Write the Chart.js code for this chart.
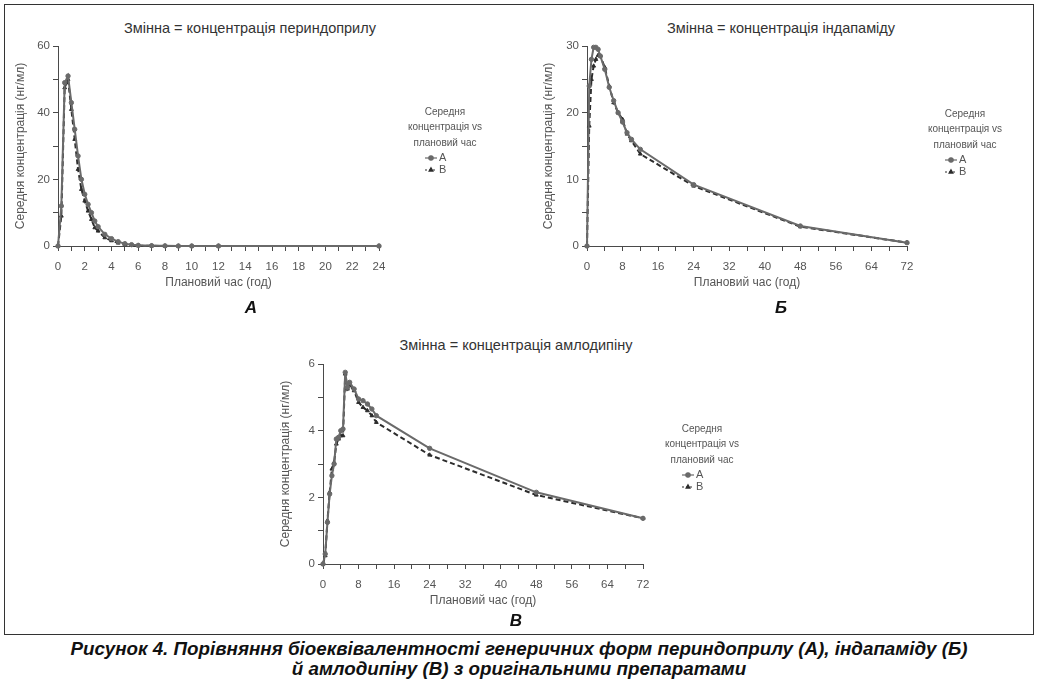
<!DOCTYPE html>
<html>
<head>
<meta charset="utf-8">
<script src="https://cdn.jsdelivr.net/npm/chart.js@4.4.1/dist/chart.umd.min.js"></script>
<style>
  body { margin: 0; background: #fff; width: 1038px; height: 684px; position: relative; overflow: hidden;
         font-family: "Liberation Sans", Arial, sans-serif; }
  .frame { position: absolute; left: 4px; top: 4px; width: 1028px; height: 629px; border: 1px solid #333; }
  canvas { position: absolute; }
  .ttl { position: absolute; width: 400px; text-align: center; font-size: 14.5px; color: #333; line-height: 16px; }
  .ltr { position: absolute; width: 60px; text-align: center; font-size: 17px; font-weight: bold;
         font-style: italic; color: #111; line-height: 20px; }
  .cap { position: absolute; left: 0; width: 1038px; top: 639px; text-align: center;
         font-family: "Liberation Sans", Arial, sans-serif; font-weight: bold;
         font-style: italic; font-size: 18.8px; line-height: 19.5px; color: #111; }
</style>
</head>
<body>
<div class="frame"></div>

<div class="ttl" style="left:50px; top:20px">Змінна = концентрація периндоприлу</div>
<div class="ttl" style="left:581px; top:20px">Змінна = концентрація індапаміду</div>
<div class="ttl" style="left:316px; top:337px">Змінна = концентрація амлодипіну</div>

<canvas id="chart-peri" width="500" height="300" style="left:0px; top:0px"></canvas>
<canvas id="chart-inda" width="500" height="300" style="left:530px; top:0px"></canvas>
<canvas id="chart-amlo" width="500" height="300" style="left:266px; top:318px"></canvas>

<div class="ltr" style="left:221px; top:298px">А</div>
<div class="ltr" style="left:751px; top:298px">Б</div>
<div class="ltr" style="left:486px; top:611px">В</div>

<div class="cap">Рисунок 4. Порівняння біоеквівалентності генеричних форм периндоприлу (А), індапаміду (Б)<br>й амлодипіну (В) з оригінальними препаратами</div>

<script>
// perindopril, 0-24 h
const periTime = [0, 0.25, 0.5, 0.75, 1, 1.25, 1.5, 1.75, 2, 2.25, 2.5, 2.75, 3, 3.5, 4, 4.5, 5, 5.5, 6, 7, 8, 9, 10, 12, 24]
const periA = [0, 12, 49, 51, 43, 35, 27, 20, 15.5, 12.5, 10, 7.5, 5.8, 3.5, 2.2, 1.3, 0.7, 0.4, 0.2, 0.1, 0.05, 0, 0, 0, 0]
const periB = [0, 9, 47.5, 50, 41, 32, 23, 17, 13.5, 10.5, 8, 5.5, 4.5, 2.5, 1.6, 0.9, 0.4, 0.2, 0.1, 0.05, 0, 0, 0, 0, 0]

// indapamide, 0-72 h
const indaTime = [0, 0.5, 1, 1.5, 2, 2.5, 3, 4, 5, 6, 7, 8, 9, 10, 12, 24, 48, 72]
const indaA = [0, 24, 28, 29.8, 29.8, 29.5, 28.5, 26.5, 23.8, 21.8, 20, 18.6, 17, 16, 14.5, 9.2, 3.0, 0.5]
const indaB = [0, 18, 25, 27, 28, 28.6, 28.5, 26.8, 24, 21.5, 20, 19, 16.8, 15.8, 13.8, 9, 2.9, 0.5]

// amlodipine, 0-72 h
const amloTime = [0, 0.5, 1, 1.5, 2, 2.5, 3, 3.5, 4, 4.5, 5, 5.5, 6, 7, 8, 9, 10, 11, 12, 24, 48, 72]
const amloA = [0, 0.3, 1.25, 2.1, 2.65, 3.0, 3.75, 3.8, 4.0, 4.05, 5.75, 5.3, 5.45, 5.25, 4.95, 4.9, 4.8, 4.65, 4.45, 3.47, 2.15, 1.37]
const amloB = [0, 0.25, 1.3, 2.15, 2.85, 3.05, 3.6, 3.75, 3.85, 3.85, 5.7, 5.25, 5.35, 5.2, 4.85, 4.7, 4.6, 4.45, 4.25, 3.27, 2.07, 1.37]

// tick labels
const periXLabels = [0, 2, 4, 6, 8, 10, 12, 14, 16, 18, 20, 22, 24]
const periYLabels = [0, 20, 40, 60]
const longXLabels = [0, 8, 16, 24, 32, 40, 48, 56, 64, 72]
const indaYLabels = [0, 10, 20, 30]
const amloYLabels = [0, 2, 4, 6]

const seriesNames = ['A', 'B']
const legendTitle = ['Середня', 'концентрація vs', 'плановий час']
const yTitle = 'Середня концентрація (нг/мл)'
const xTitle = 'Плановий час (год)'

const axisColor = '#4a4a4a'
const textColor = '#555'
const fontFamily = '"Liberation Sans", Arial, sans-serif'

const noteLegend = {
  id: 'noteLegend',
  afterDraw(chart, args, opts) {
    const ctx = chart.ctx
    ctx.save()
    ctx.font = '10px ' + fontFamily
    ctx.fillStyle = textColor
    ctx.textAlign = 'center'
    ctx.textBaseline = 'middle'
    legendTitle.forEach((line, i) => ctx.fillText(line, opts.x, opts.y + i * 15.5))
    chart.data.datasets.forEach((ds, i) => {
      const y = opts.y + 46 + i * 12
      const x0 = opts.x - 20
      ctx.strokeStyle = ds.borderColor
      ctx.fillStyle = ds.borderColor
      ctx.lineWidth = 1.2
      ctx.setLineDash(i === 1 ? [2, 2] : [])
      ctx.beginPath()
      ctx.moveTo(x0, y)
      ctx.lineTo(x0 + 12, y)
      ctx.stroke()
      ctx.setLineDash([])
      Chart.helpers.drawPoint(ctx, { pointStyle: ds.pointStyle, rotation: 0, radius: 2.2, borderWidth: 1 }, x0 + 6, y)
      ctx.fillStyle = textColor
      ctx.textAlign = 'left'
      ctx.font = '11px ' + fontFamily
      ctx.fillText(ds.label, x0 + 14, y)
    })
    ctx.restore()
  }
}

function series(times, values, idx) {
  return {
    label: seriesNames[idx],
    data: times.map((t, i) => ({ x: t, y: values[i] })),
    borderColor: idx === 0 ? '#6a6a6a' : '#2c2c2c',
    backgroundColor: idx === 0 ? '#6a6a6a' : '#2c2c2c',
    borderWidth: 2,
    borderDash: idx === 1 ? [5, 3] : [],
    pointStyle: idx === 0 ? 'circle' : 'triangle',
    pointRadius: 2.2,
    pointBorderWidth: 1,
    tension: 0,
    clip: false
  }
}

function panelConfig(p) {
  return {
    type: 'line',
    data: {
      datasets: [series(p.times, p.a, 0), series(p.times, p.b, 1)]
    },
    options: {
      responsive: false,
      animation: false,
      layout: {
        padding: { top: 46, right: p.right, bottom: 4, left: 0 }
      },
      scales: {
        x: {
          type: 'linear',
          min: 0,
          max: p.xMax,
          afterFit: (s) => { s.height = 50 },
          border: { display: true, color: axisColor, width: 1 },
          grid: { display: true, drawOnChartArea: false, drawTicks: true, tickLength: 5, color: axisColor },
          ticks: {
            stepSize: p.xStep,
            autoSkip: false,
            maxRotation: 0,
            padding: 9,
            color: textColor,
            font: { family: fontFamily, size: 11.5 },
            callback: (v) => p.xLabels.includes(v) ? String(v) : ''
          },
          title: {
            display: true,
            text: xTitle,
            color: textColor,
            font: { family: fontFamily, size: 12 },
            padding: { top: 0, bottom: 6 }
          }
        },
        y: {
          type: 'linear',
          min: 0,
          max: p.yMax,
          afterFit: (s) => { s.width = p.yWidth },
          border: { display: true, color: axisColor, width: 1 },
          grid: { display: true, drawOnChartArea: false, drawTicks: true, tickLength: 5, color: axisColor },
          ticks: {
            stepSize: p.yStep,
            autoSkip: false,
            padding: 3,
            color: textColor,
            font: { family: fontFamily, size: 11.5 },
            callback: (v) => p.yLabels.includes(v) ? String(v) : ''
          },
          title: {
            display: true,
            text: yTitle,
            color: textColor,
            font: { family: fontFamily, size: 12 },
            padding: { top: p.yTitlePad, bottom: 0 }
          }
        }
      },
      plugins: {
        legend: { display: false },
        tooltip: { enabled: false },
        noteLegend: p.legend
      }
    },
    plugins: [noteLegend]
  }
}

new Chart(document.getElementById('chart-peri'), panelConfig({
  times: periTime, a: periA, b: periB,
  xMax: 24, xStep: 1, xLabels: periXLabels,
  yMax: 60, yStep: 10, yLabels: periYLabels,
  yWidth: 58, yTitlePad: 13, right: 121,
  legend: { x: 445, y: 112 }
}))

new Chart(document.getElementById('chart-inda'), panelConfig({
  times: indaTime, a: indaA, b: indaB,
  xMax: 72, xStep: 4, xLabels: longXLabels,
  yMax: 30, yStep: 5, yLabels: indaYLabels,
  yWidth: 57, yTitlePad: 11, right: 123,
  legend: { x: 435, y: 114 }
}))

new Chart(document.getElementById('chart-amlo'), panelConfig({
  times: amloTime, a: amloA, b: amloB,
  xMax: 72, xStep: 4, xLabels: longXLabels,
  yMax: 6, yStep: 1, yLabels: amloYLabels,
  yWidth: 57, yTitlePad: 12, right: 123,
  legend: { x: 436, y: 111 }
}))
</script>
</body>
</html>
